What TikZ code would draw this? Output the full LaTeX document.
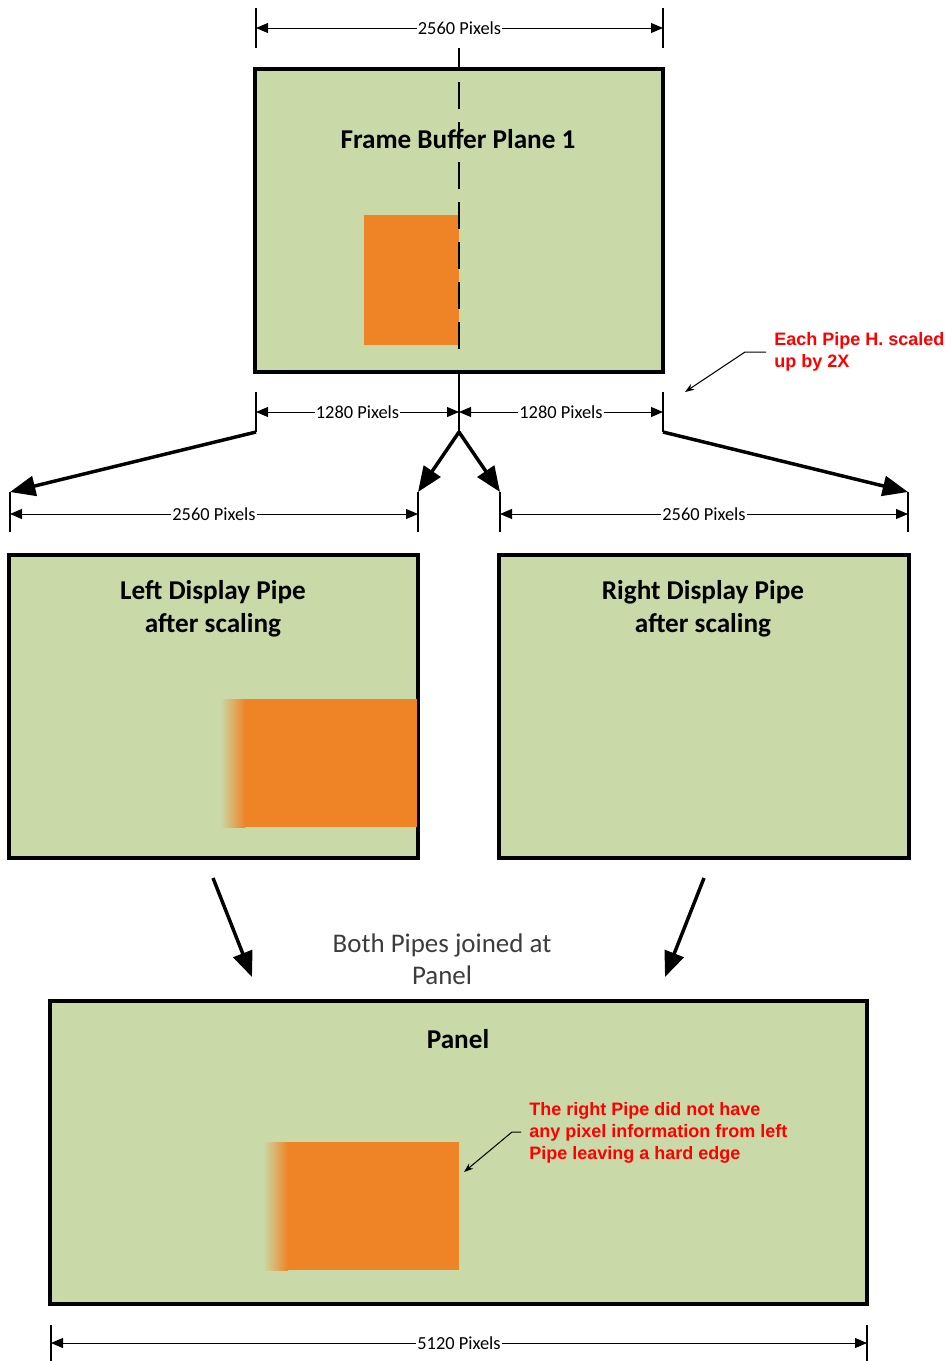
\documentclass[tikz,border=0pt]{standalone}
\usepackage{fontspec}
\setmainfont{Carlito}
\newfontfamily\notefont{Liberation Sans}
\usetikzlibrary{arrows.meta}

\definecolor{planegreen}{HTML}{C9DAA8}
\definecolor{blockorange}{HTML}{EF8427}
\definecolor{notered}{HTML}{FF0000}
\definecolor{captiongray}{HTML}{3C3C3C}

\begin{document}
\begin{tikzpicture}[x=0.75pt,y=-0.75pt,
  plane/.style={draw=black, line width=2.3pt, fill=planegreen},
  block/.style={fill=blockorange},
  fade/.style={left color=planegreen, right color=blockorange},
  extline/.style={line width=0.8pt},
  dimline/.style={line width=0.75pt,
    {Triangle[length=9pt,width=7.5pt]}-{Triangle[length=9pt,width=7.5pt]}},
  dimlabel/.style={fill=white, inner sep=0.8pt, font=\fontsize{13.8}{15}\selectfont},
  bigarrow/.style={line width=2.6pt, -{Triangle[length=19pt,width=15pt]}},
  title/.style={font=\fontsize{20.4}{24.75}\selectfont\bfseries, align=center},
  caption/.style={font=\fontsize{20.2}{24}\selectfont, align=center, text=captiongray},
  note/.style={text=notered, font=\notefont\bfseries\fontsize{13.5}{16.4}\selectfont,
    align=left, anchor=north west, inner sep=0pt},
  leader/.style={line width=0.75pt, -{Stealth[length=7pt,width=5pt]}}
]
\useasboundingbox (0,0) rectangle (946,1361);

% ---------- frame buffer plane ----------
\path[plane] (255,69) rectangle (663,372);
\fill[block] (364,215) rectangle (459,345);
\node[title] (fbtitle) at (458,139) {Frame Buffer Plane 1};

% split line through the plane
\coordinate (splittop) at (459,48);
\coordinate (fbtop) at (459,69);
\coordinate (dashA) at (459,82);
\coordinate (dashB) at (459,352);
\coordinate (fbbot) at (459,372);
\coordinate (split) at (459,432);
\draw[extline] (splittop) -- (fbtop);
\draw[line width=0.9pt, dash pattern=on 20pt off 10pt] (dashA) -- (dashB);
\draw[extline] (fbbot) -- (split);

% 2560 pixel width of the plane
\coordinate (fbL1) at (256,8);  \coordinate (fbL2) at (256,48);
\coordinate (fbR1) at (663,8);  \coordinate (fbR2) at (663,48);
\draw[extline] (fbL1) -- (fbL2);
\draw[extline] (fbR1) -- (fbR2);
\coordinate (fbdimL) at (256,28); \coordinate (fbdimR) at (663,28);
\draw[dimline] (fbdimL) -- node[dimlabel] (fbdim) {2560 Pixels} (fbdimR);

% 1280 pixel halves
\coordinate (hL1) at (256,392); \coordinate (hL2) at (256,432);
\coordinate (hR1) at (663,392); \coordinate (hR2) at (663,432);
\draw[extline] (hL1) -- (hL2);
\draw[extline] (hR1) -- (hR2);
\coordinate (hdimL) at (256,412); \coordinate (hdimM) at (459,412); \coordinate (hdimR) at (663,412);
\draw[dimline] (hdimL) -- node[dimlabel] (halfL) {1280 Pixels} (hdimM);
\draw[dimline] (hdimM) -- node[dimlabel] (halfR) {1280 Pixels} (hdimR);

% horizontal scaling arrows
\coordinate (lpL) at (10,492);  \coordinate (lpR) at (418,492);
\coordinate (rpL) at (500,492); \coordinate (rpR) at (908,492);
\draw[bigarrow] (hL2) -- (lpL);
\draw[bigarrow] (split) -- (lpR);
\draw[bigarrow] (split) -- (rpL);
\draw[bigarrow] (hR2) -- (rpR);

% scaling note
\node[note] (scalenote) at (774,332) {Each Pipe H. scaled\\up by 2X};
\coordinate (sn1) at (766,352); \coordinate (sn2) at (745,352); \coordinate (sn3) at (685,392);
\draw[leader] (sn1) -- (sn2) -- (sn3);

% 2560 pixel widths of the pipes
\coordinate (lpL2) at (10,532);  \coordinate (lpR2) at (418,532);
\coordinate (rpL2) at (500,532); \coordinate (rpR2) at (908,532);
\draw[extline] (lpL) -- (lpL2);
\draw[extline] (lpR) -- (lpR2);
\draw[extline] (rpL) -- (rpL2);
\draw[extline] (rpR) -- (rpR2);
\coordinate (ldimL) at (10,514);  \coordinate (ldimR) at (418,514);
\coordinate (rdimL) at (500,514); \coordinate (rdimR) at (908,514);
\draw[dimline] (ldimL) -- node[dimlabel] (ldim) {2560 Pixels} (ldimR);
\draw[dimline] (rdimL) -- node[dimlabel] (rdim) {2560 Pixels} (rdimR);

% ---------- display pipes ----------
\path[plane] (9,555) rectangle (418,858);
\shade[fade] (220,699) rectangle (245,827);
\fill[block] (245,699) rectangle (416.5,827);
\node[title] (lptitle) at (213,609) {Left Display Pipe\\after scaling};

\path[plane] (499,555) rectangle (909,858);
\node[title] (rptitle) at (703,609) {Right Display Pipe\\after scaling};

% joining arrows
\coordinate (jl1) at (213,878); \coordinate (jl2) at (252,977);
\coordinate (jr1) at (704,878); \coordinate (jr2) at (665,977);
\draw[bigarrow] (jl1) -- (jl2);
\draw[bigarrow] (jr1) -- (jr2);
\node[caption] (joincap) at (442,959) {Both Pipes joined at\\Panel};

% ---------- panel ----------
\path[plane] (50,1001) rectangle (867,1304);
\shade[fade] (263,1142) rectangle (288,1270);
\fill[block] (288,1142) rectangle (459,1270);
\node[title] (paneltitle) at (458,1039) {Panel};

\node[note] (edgenote) at (529,1102)
  {The right Pipe did not have\\any pixel information from left\\Pipe leaving a hard edge};
\coordinate (en1) at (521,1132); \coordinate (en2) at (512,1132); \coordinate (en3) at (464,1172);
\draw[leader] (en1) -- (en2) -- (en3);

% 5120 pixel panel width
\coordinate (pL1) at (51,1325);  \coordinate (pL2) at (51,1361);
\coordinate (pR1) at (867,1325); \coordinate (pR2) at (867,1361);
\draw[extline] (pL1) -- (pL2);
\draw[extline] (pR1) -- (pR2);
\coordinate (pdimL) at (51,1343); \coordinate (pdimR) at (867,1343);
\draw[dimline] (pdimL) -- node[dimlabel] (pdim) {5120 Pixels} (pdimR);
\end{tikzpicture}
\end{document}
